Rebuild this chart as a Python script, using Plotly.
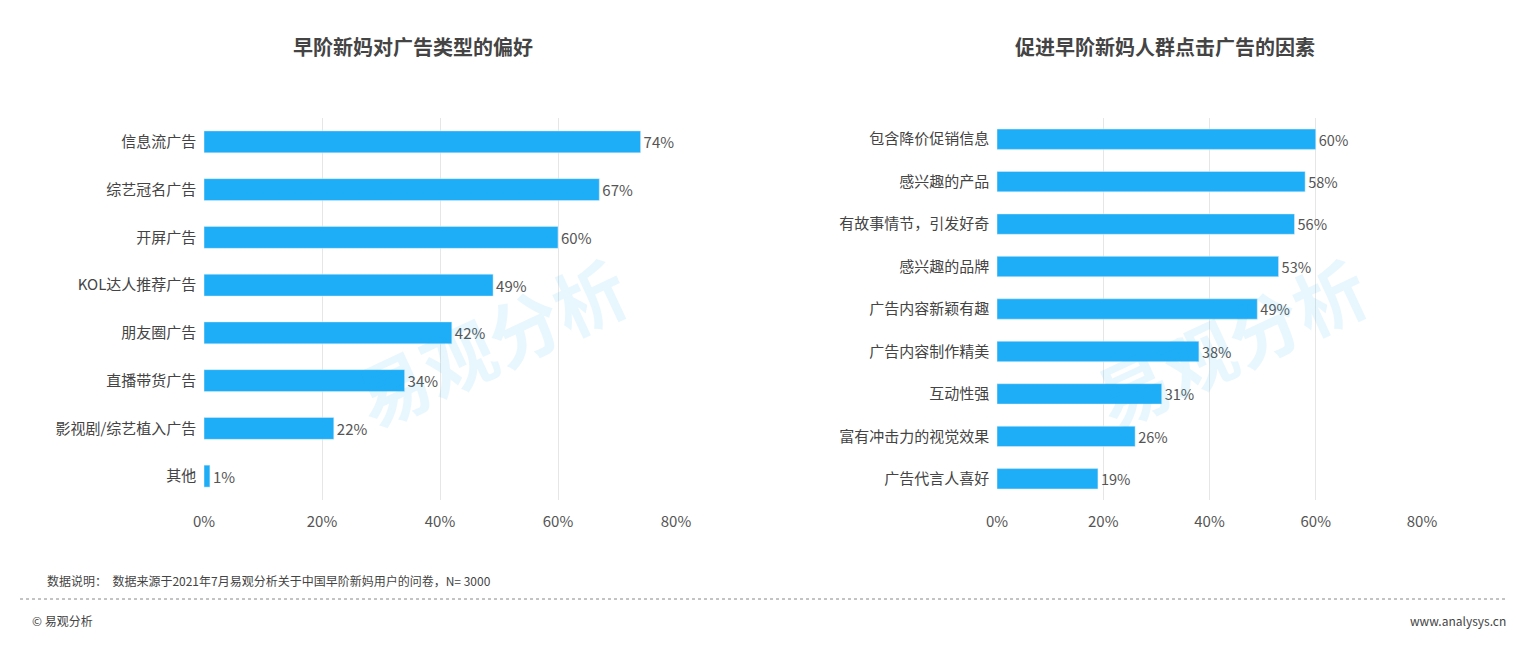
import plotly.graph_objects as go

left_cats = ["信息流广告","综艺冠名广告","开屏广告","KOL达人推荐广告","朋友圈广告","直播带货广告","影视剧/综艺植入广告","其他"]
left_vals = [74,67,60,49,42,34,22,1]
right_cats = ["包含降价促销信息","感兴趣的产品","有故事情节，引发好奇","感兴趣的品牌","广告内容新颖有趣","广告内容制作精美","互动性强","富有冲击力的视觉效果","广告代言人喜好"]
right_vals = [60,58,56,53,49,38,31,26,19]
tick_vals = [0,20,40,60,80]
tick_text = ["0%","20%","40%","60%","80%"]

BLUE = "#1EAEF8"
FONT = "Noto Sans CJK SC"
W, H, OFF = 1530, 648, 8  # page body margin compensation
px = lambda x: (x - OFF) / W
py = lambda y: 1 - (y - OFF) / H

fig = go.Figure()
fig.add_trace(go.Bar(y=left_cats, x=left_vals, orientation="h", marker_color=BLUE, width=0.46,
                     text=[f"{v}%" for v in left_vals], textposition="outside",
                     textfont=dict(size=15, color="#555"), cliponaxis=False, xaxis="x", yaxis="y"))
fig.add_trace(go.Bar(y=right_cats, x=right_vals, orientation="h", marker_color=BLUE, width=0.48,
                     text=[f"{v}%" for v in right_vals], textposition="outside",
                     textfont=dict(size=15, color="#555"), cliponaxis=False, xaxis="x2", yaxis="y2"))
ax = dict(range=[0,80], tickvals=tick_vals, ticktext=tick_text, showgrid=True, gridcolor="#e6e6e6",
          zeroline=False, tickfont=dict(size=15, color="#555"), ticks="outside", ticklen=8,
          tickcolor="rgba(0,0,0,0)", showline=False, automargin=False)
yax = dict(domain=[py(500), py(118)], autorange="reversed", tickfont=dict(size=15, color="#444"),
           ticksuffix="  ", showgrid=False, automargin=False)
fig.update_layout(
    width=W, height=H, plot_bgcolor="white", paper_bgcolor="white", showlegend=False,
    margin=dict(l=0,r=0,t=0,b=0,autoexpand=False), font=dict(family=FONT, color="#444"), bargap=0.5,
    xaxis=dict(domain=[px(204), px(676)], anchor="y", **ax),
    xaxis2=dict(domain=[px(997), px(1422)], anchor="y2", **ax),
    yaxis=dict(anchor="x", **yax),
    yaxis2=dict(anchor="x2", **yax),
)
ann = [
    dict(text="<b>早阶新妈对广告类型的偏好</b>", x=px(413), y=py(46), font=dict(size=20, color="#444")),
    dict(text="<b>促进早阶新妈人群点击广告的因素</b>", x=px(1165), y=py(46), font=dict(size=20, color="#444")),
    dict(text="数据说明：  数据来源于2021年7月易观分析关于中国早阶新妈用户的问卷，N= 3000", x=px(45), y=py(580), xanchor="left", font=dict(size=12, color="#444")),
    dict(text="© 易观分析", x=px(30), y=py(620), xanchor="left", font=dict(size=12, color="#444")),
    dict(text="www.analysys.cn", x=px(1508), y=py(620), xanchor="right", font=dict(size=12, color="#444")),
    dict(text="<b>易观分析</b>", x=px(490), y=py(340), textangle=-25, font=dict(size=72, color="rgba(30,174,248,0.10)")),
    dict(text="<b>易观分析</b>", x=px(1230), y=py(340), textangle=-25, font=dict(size=72, color="rgba(30,174,248,0.10)")),
]
for a in ann:
    a.update(xref="paper", yref="paper", showarrow=False, yanchor="middle")
    a.setdefault("xanchor", "center")
fig.update_layout(annotations=ann)
fig.add_shape(type="line", xref="paper", yref="paper", x0=px(20), x1=px(1508), y0=py(599), y1=py(599),
              line=dict(color="#888", width=1, dash="dot"))
fig.write_html("out.html")
